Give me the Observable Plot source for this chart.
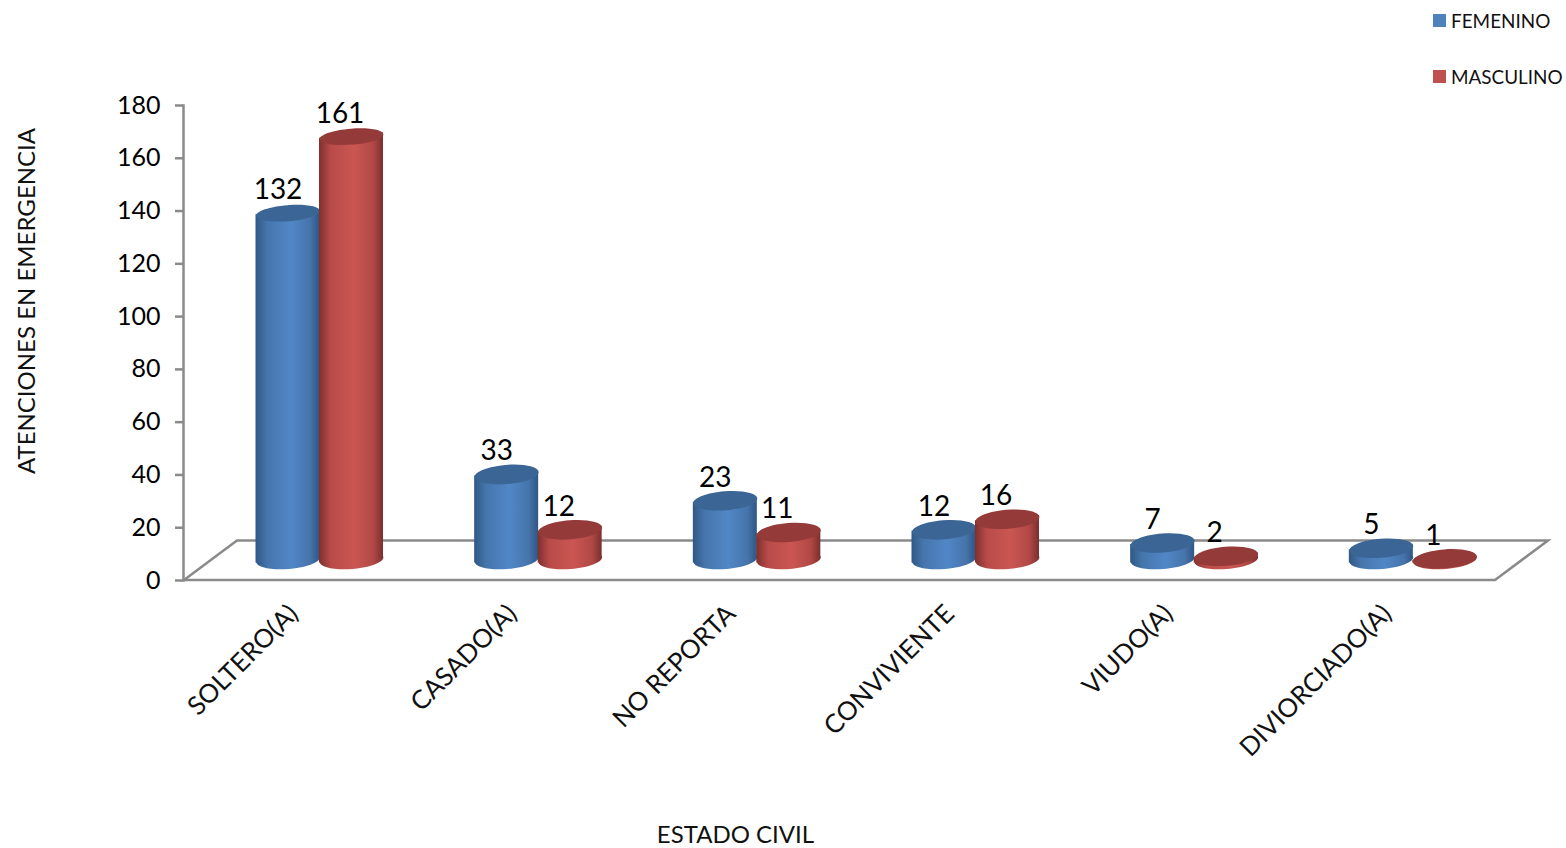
<!DOCTYPE html>
<html>
<head>
<meta charset="utf-8">
<script src="https://cdn.jsdelivr.net/npm/d3@7"></script>
<script src="https://cdn.jsdelivr.net/npm/@observablehq/plot@0.6"></script>
<style>
  html, body { margin: 0; padding: 0; background: #fff; }
  #wrap { position: relative; width: 1566px; height: 848px; font-family: Lato, sans-serif; }
  .lg { position: absolute; left: 1433px; display: flex; align-items: center; font-size: 18.9px; color: #111; white-space: nowrap; }
  .lg i { display: block; width: 13px; height: 13px; margin-right: 5px; }
</style>
</head>
<body>
<div id="wrap"></div>
<script>
const categories = ["SOLTERO(A)", "CASADO(A)", "NO REPORTA", "CONVIVIENTE", "VIUDO(A)", "DIVIORCIADO(A)"];
const femenino = [132, 33, 23, 12, 7, 5];
const masculino = [161, 12, 11, 16, 2, 1];
const yTicks = [0, 20, 40, 60, 80, 100, 120, 140, 160, 180];
const floorDepth = 15;

const GRAY = "#8a8a8a";
const rows = (vals) => categories.map((c, i) => ({c, v: vals[i]}));

const TILT = -4.5 * Math.PI / 180, RX = 32, K = 0.5523;
const ellipse = {
  draw(ctx, size) {
    const ry = Math.sqrt(size / Math.PI);
    const p = (a, b) => [a * Math.cos(TILT) - b * Math.sin(TILT), a * Math.sin(TILT) + b * Math.cos(TILT)];
    ctx.moveTo(...p(RX, 0));
    ctx.bezierCurveTo(...p(RX, K * ry), ...p(K * RX, ry), ...p(0, ry));
    ctx.bezierCurveTo(...p(-K * RX, ry), ...p(-RX, K * ry), ...p(-RX, 0));
    ctx.bezierCurveTo(...p(-RX, -K * ry), ...p(-K * RX, -ry), ...p(0, -ry));
    ctx.bezierCurveTo(...p(K * RX, -ry), ...p(RX, -K * ry), ...p(RX, 0));
    ctx.closePath();
  }
};

function series(vals, grad, cap, il, ir, cx, tx) {
  const data = rows(vals);
  const capR = d => d.v > 60 ? 8 : 9.5;
  return [
    Plot.dot(data, {x: "c", y: () => 0, r: () => 9.5, symbol: ellipse, fill: `url(#${grad})`, stroke: "none", dx: cx, dy: -21}),
    Plot.barY(data, {x: "c", y1: () => 0, y2: "v", fill: `url(#${grad})`, insetLeft: il, insetRight: ir, dy: -20, className: "cyl"}),
    Plot.dot(data, {x: "c", y: "v", r: capR, symbol: ellipse, fill: cap, stroke: "none", dx: cx, dy: -19}),
    Plot.text(data, {x: "c", y: "v", text: d => String(d.v), dx: cx + tx, dy: -42, fontSize: 28, fill: "#000", lineAnchor: "middle"})
  ];
}

const floor = (index, {y}, values, {width, marginLeft, marginRight}) => {
  const L = marginLeft + 1, R = width - marginRight, y0 = y(0), y1 = y(floorDepth), d = 53;
  const p = d3.path();
  p.moveTo(L, y0); p.lineTo(L + d, y1); p.lineTo(R + d, y1); p.lineTo(R, y0); p.closePath();
  return d3.create("svg:path").attr("d", p.toString()).attr("fill", "none")
    .attr("stroke", GRAY).attr("stroke-width", 2.5).node();
};

const plot = Plot.plot({
  width: 1566,
  height: 848,
  marginLeft: 183,
  marginRight: 71,
  marginTop: 105,
  marginBottom: 268,
  style: {background: "#fff", fontFamily: "Lato, sans-serif", overflow: "visible"},
  x: {domain: categories, padding: 0, round: false, label: null},
  y: {domain: [0, 180], label: null},
  r: {type: "identity"},
  marks: [
    floor,
    Plot.frame({anchor: "left", stroke: GRAY, strokeWidth: 2.5}),
    Plot.axisY({ticks: yTicks, tickSize: 8, tickPadding: 15, stroke: GRAY, strokeWidth: 2.5, color: "#000", fontSize: 25, label: null, tickFormat: d => String(d)}),
    Plot.axisX({tickRotate: -45, tickSize: 0, tickPadding: 16, fontSize: 25.8, label: null, color: "#111", dx: 1, dy: 13}),
    ...series(femenino, "gBlue", "#3a6595", 72.5, 82.17, -4.83, -10),
    ...series(masculino, "gRed", "#943b39", 136, 18.67, 58.67, -11.5),
    Plot.text(["ESTADO CIVIL"], {frameAnchor: "bottom", dx: -104, dy: 255, fontSize: 24, fill: "#111", lineAnchor: "middle"}),
    Plot.text(["ATENCIONES EN EMERGENCIA"], {frameAnchor: "left", dx: -156, dy: -42, rotate: -90, fontSize: 24, fill: "#111", lineAnchor: "middle", textAnchor: "middle"})
  ]
});

const defs = d3.select(plot).insert("defs", ":first-child");
function grad(id, stops) {
  const g = defs.append("linearGradient").attr("id", id).attr("x1", 0).attr("x2", 1).attr("y1", 0).attr("y2", 0);
  stops.forEach(([o, c]) => g.append("stop").attr("offset", o).attr("stop-color", c));
}
grad("gBlue", [[0, "#2f5885"], [0.18, "#4675ac"], [0.55, "#5187c7"], [0.85, "#4674ab"], [1, "#2f5685"]]);
grad("gRed", [[0, "#7e302e"], [0.18, "#b84b48"], [0.55, "#cb5652"], [0.85, "#b04845"], [1, "#7a2f2d"]]);

d3.select(plot).selectAll(".cyl rect")
  .style("transform-box", "fill-box")
  .style("transform-origin", "center")
  .style("transform", "skewY(-4.5deg)");

const wrap = document.getElementById("wrap");
wrap.appendChild(plot);
[["FEMENINO", "#4f81bd", 9], ["MASCULINO", "#c0504d", 65]].forEach(([t, c, top]) => {
  const el = document.createElement("div");
  el.className = "lg";
  el.style.top = top + "px";
  const sw = document.createElement("i");
  sw.style.background = c;
  el.appendChild(sw);
  el.appendChild(document.createTextNode(t));
  wrap.appendChild(el);
});
</script>
</body>
</html>
